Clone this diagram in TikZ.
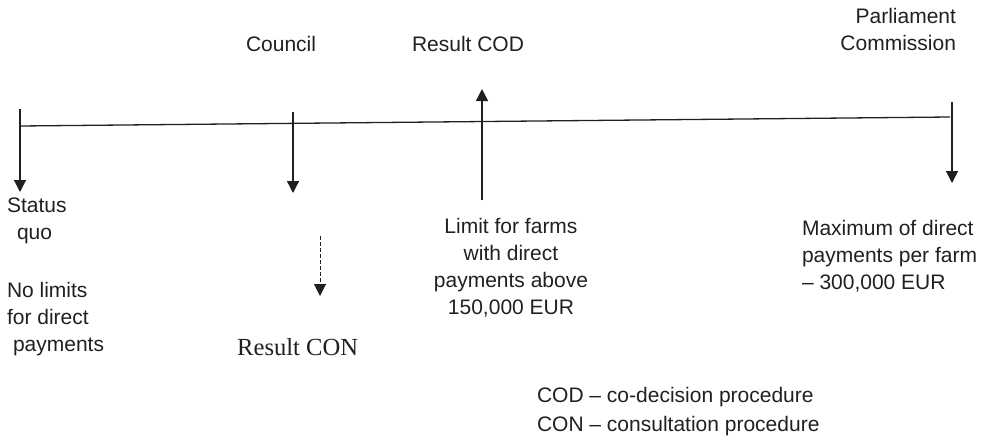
\documentclass[tikz,border=0pt]{standalone}
\usepackage{fontspec}
\setmainfont{Liberation Sans}
\newfontfamily\serifface{Liberation Serif}
\usetikzlibrary{arrows.meta}
\definecolor{ink}{RGB}{35,31,32}
\begin{document}
\begin{tikzpicture}[x=1pt,y=-1pt,
  txt/.style={inner sep=0pt,outer sep=0pt,text=ink,font=\fontsize{21}{27}\selectfont},
  arr/.style={draw=ink,line width=1.3pt,-{Triangle[width=12pt,length=12pt]}},
  axis/.style={draw=ink,line width=1.3pt}]
\useasboundingbox (0,0) rectangle (988,444);
% timeline
\coordinate (tl) at (20,126);
\coordinate (tr) at (950,117);
\draw[axis] (tl) -- (tr);
% arrow end points
\coordinate (s1) at (20,109);  \coordinate (s2) at (20,192);
\coordinate (c1) at (293,112); \coordinate (c2) at (293,193);
\coordinate (r1) at (482,200); \coordinate (r2) at (482,89);
\coordinate (d1) at (320,236); \coordinate (d2) at (320,296);
\coordinate (p1) at (952,102); \coordinate (p2) at (952,183);
\draw[arr] (s1) -- (s2);
\draw[arr] (c1) -- (c2);
\draw[arr] (r1) -- (r2);
\draw[arr,dashed,dash pattern=on 4pt off 2pt,line width=1pt] (d1) -- (d2);
\draw[arr] (p1) -- (p2);
% texts (base anchor = baseline of last line)
\node[txt,anchor=base east,align=right] (parl) at (956,51) {Parliament\\Commission};
\node[txt,anchor=base west] (council) at (246,52) {Council};
\node[txt,anchor=base west] (rcod) at (412,52) {Result COD};
\node[txt,anchor=base west,align=left] (status) at (7,239) {Status\\\hspace*{10pt}quo};
\node[txt,anchor=base west,align=left] (nolim) at (7,351) {No limits\\for direct\\\hspace*{6pt}payments};
\node[txt,anchor=base,align=center] (limit) at (511,314) {Limit for farms\\with direct\\payments above\\150,000 EUR};
\node[txt,anchor=base west,align=left] (maxim) at (802,289) {Maximum of direct\\payments per farm\\– 300,000 EUR};
\node[inner sep=0pt,text=ink,font=\serifface\fontsize{24.6}{28}\selectfont,anchor=base west] (rcon) at (237,355) {Result CON};
\node[txt,anchor=base west,align=left] (legend) at (537,431) {COD – co-decision procedure\\[2pt]CON – consultation procedure};
\end{tikzpicture}
\end{document}
